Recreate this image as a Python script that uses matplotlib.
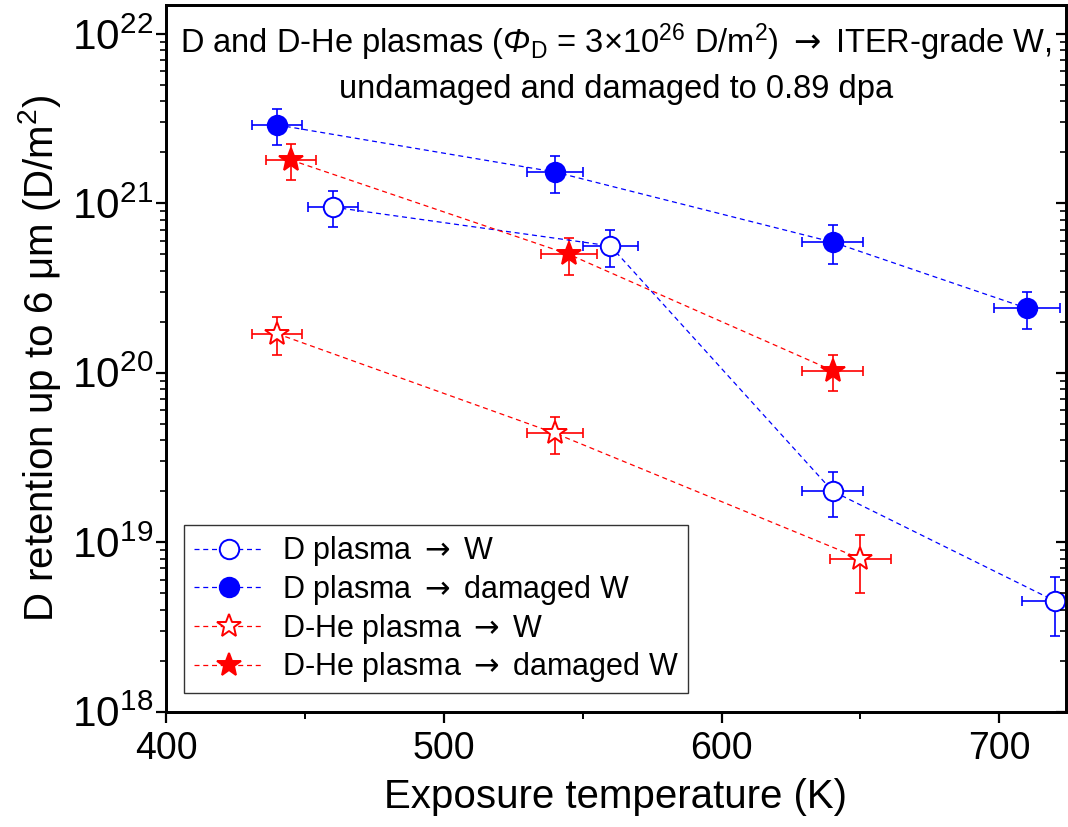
import numpy as np
import matplotlib
matplotlib.use('Agg')
import matplotlib.pyplot as plt
from matplotlib.ticker import LogLocator, MultipleLocator, NullFormatter

plt.rcParams['font.family'] = ['Liberation Sans', 'DejaVu Sans']
plt.rcParams['mathtext.fontset'] = 'custom'
plt.rcParams['mathtext.rm'] = 'Liberation Sans'
plt.rcParams['mathtext.it'] = 'Liberation Sans:italic'
plt.rcParams['mathtext.sf'] = 'Liberation Sans:italic'
plt.rcParams['mathtext.tt'] = 'DejaVu Sans'
plt.rcParams['mathtext.bf'] = 'Liberation Sans:bold'

# D plasma -> W (undamaged)
t_d_w = [460, 560, 640, 720]
r_d_w = [9.5e20, 5.6e20, 2.0e19, 4.5e18]
ye_d_w = [2.3e20, 1.4e20, 0.6e19, 1.7e18]
xe_d_w = [9, 10, 11, 12]

# D plasma -> damaged W
t_d_dw = [440, 540, 640, 710]
r_d_dw = [2.9e21, 1.53e21, 5.9e20, 2.4e20]
ye_d_dw = [0.7e21, 0.38e21, 1.5e20, 0.6e20]
xe_d_dw = [9, 10, 11, 12]

# D-He plasma -> W (undamaged)
t_he_w = [440, 540, 650]
r_he_w = [1.7e20, 4.4e19, 8.0e18]
ye_he_w = [0.43e20, 1.1e19, 3.0e18]
xe_he_w = [9, 10, 11]

# D-He plasma -> damaged W
t_he_dw = [445, 545, 640]
r_he_dw = [1.8e21, 5.0e20, 1.03e20]
ye_he_dw = [0.43e21, 1.25e20, 0.25e20]
xe_he_dw = [9, 10, 11]

blue = '#0000ff'
red = '#ff0000'
arrow = r' $\mathtt{\rightarrow}$ '

fig = plt.figure(figsize=(10.68, 8.27), dpi=100)
ax = fig.add_axes([166/1068, 1-711.7/827, 900/1068, 706.7/827])

series = [
    (t_d_w, r_d_w, xe_d_w, ye_d_w, blue, 'o', 'white', 14, 'D plasma' + arrow + 'W'),
    (t_d_dw, r_d_dw, xe_d_dw, ye_d_dw, blue, 'o', blue, 14, 'D plasma' + arrow + 'damaged W'),
    (t_he_w, r_he_w, xe_he_w, ye_he_w, red, '*', 'white', 18, 'D-He plasma' + arrow + 'W'),
    (t_he_dw, r_he_dw, xe_he_dw, ye_he_dw, red, '*', red, 18, 'D-He plasma' + arrow + 'damaged W'),
]

for t, r, xe, ye, c, m, fc, ms, lab in series:
    ax.errorbar(t, r, xerr=xe, yerr=ye, fmt='none', ecolor=c, elinewidth=1.2,
                capsize=3.5, capthick=1.2, zorder=2)
    ax.plot(t, r, linestyle=(0, (4, 3)), lw=0.9, color=c, marker=m, ms=ms,
            mfc=fc, mec=c, mew=1.4, label=lab, zorder=3)

ax.set_yscale('log')
ax.set_xlim(400, 724)
ax.set_ylim(1e18, 10**22.17)

ax.xaxis.set_major_locator(MultipleLocator(100))
ax.xaxis.set_minor_locator(MultipleLocator(50))
ax.yaxis.set_major_locator(LogLocator(base=10, numticks=10))
ax.yaxis.set_minor_locator(LogLocator(base=10, subs=np.arange(2, 10), numticks=20))
ax.yaxis.set_minor_formatter(NullFormatter())

ax.tick_params(axis='x', which='major', direction='out', length=8, width=1.6,
               labelsize=27, pad=6, top=False)
ax.tick_params(axis='x', which='minor', direction='out', length=5, width=1.4, top=False)
ax.tick_params(axis='y', which='major', direction='out', length=7.5, width=1.6,
               labelsize=30.5, pad=2, right=False)
ax.tick_params(axis='y', which='minor', direction='out', length=4, width=1.2, right=False)

ax2 = ax.twinx()
ax2.set_yscale('log')
ax2.set_ylim(ax.get_ylim())
ax2.yaxis.set_major_locator(LogLocator(base=10, numticks=10))
ax2.yaxis.set_minor_locator(LogLocator(base=10, subs=np.arange(2, 10), numticks=20))
ax2.tick_params(axis='y', which='major', direction='in', length=7.5, width=1.6, labelright=False)
ax2.tick_params(axis='y', which='minor', direction='in', length=4, width=1.2, labelright=False)

for a in (ax, ax2):
    for s in a.spines.values():
        s.set_linewidth(2)

ax.set_xlabel('Exposure temperature (K)', fontsize=29, labelpad=8)
ax.set_ylabel('D retention up to 6 \u03bcm (D/m$^2$)', fontsize=29, labelpad=6)

ax.text(0.5, 0.947,
        'D and D-He plasmas ($\\mathsf{\u03a6}_\\mathrm{D}$ = 3\u00d710$^{26}$ D/m$^2$)'
        + arrow + 'ITER-grade W,',
        transform=ax.transAxes, ha='center', va='center', fontsize=23.5)
ax.text(0.5, 0.880, 'undamaged and damaged to 0.89 dpa',
        transform=ax.transAxes, ha='center', va='center', fontsize=23.5)

leg = ax.legend(loc='lower left', fontsize=22, numpoints=1, handlelength=2.3,
                handletextpad=0.6, labelspacing=0.15, borderpad=0.3,
                borderaxespad=0.6, fancybox=False, framealpha=1)
leg.get_frame().set_edgecolor('#333333')
leg.get_frame().set_linewidth(1.0)

fig.savefig('out.png', dpi=100)
